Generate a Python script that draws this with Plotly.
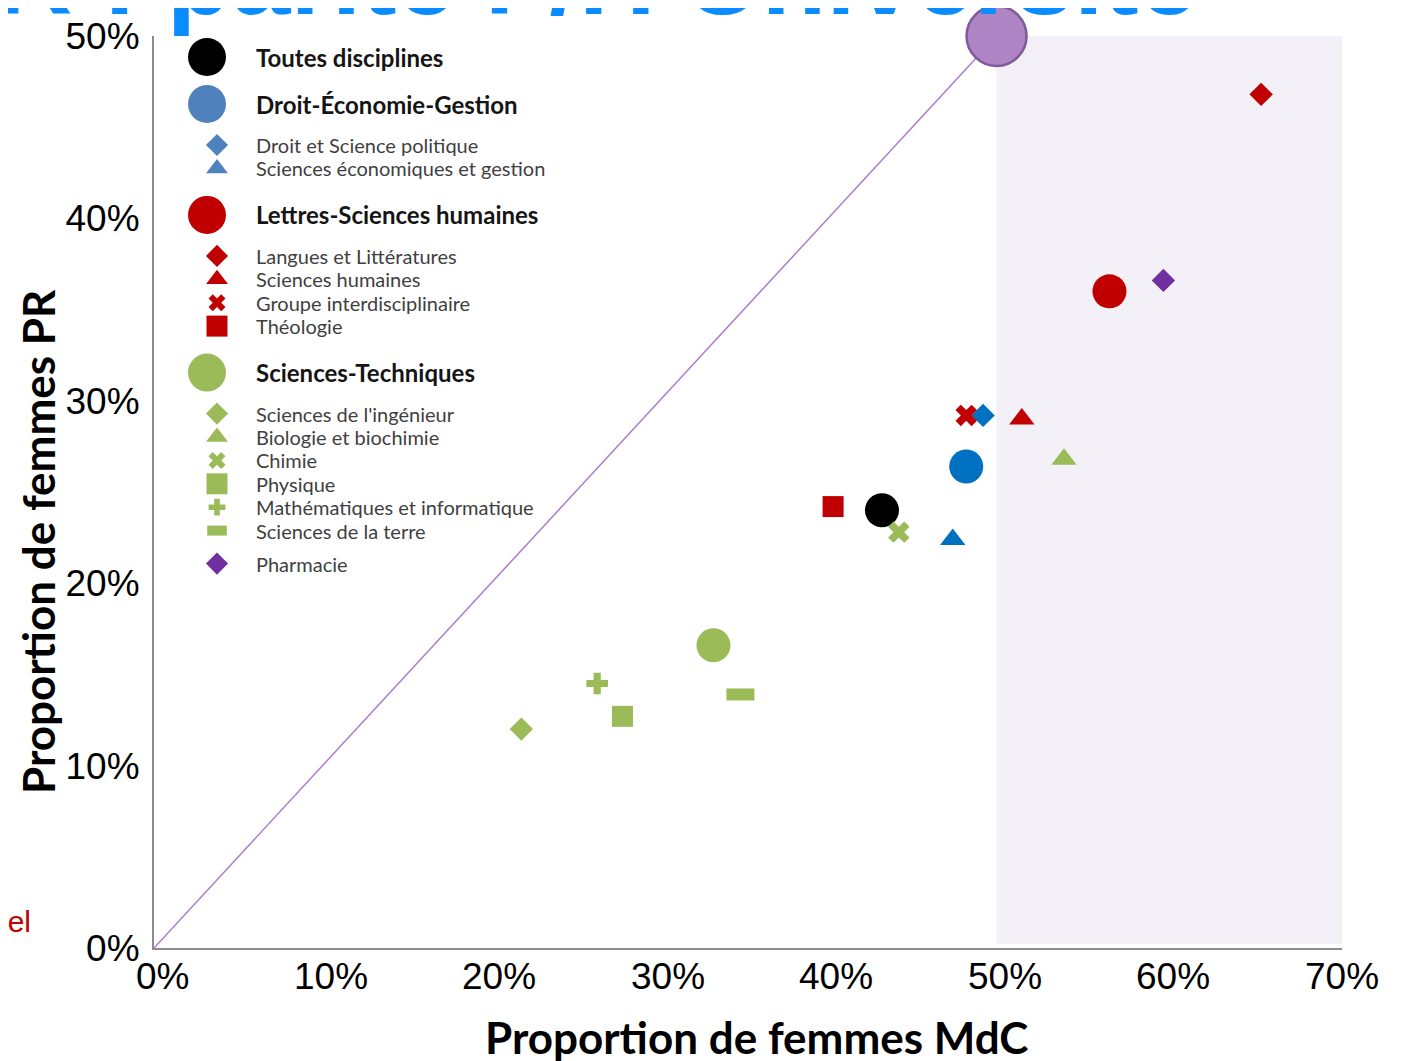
import plotly.graph_objects as go

# ---------------- data ----------------
categories = ["Toutes disciplines", "Droit-Économie-Gestion", "Droit et Science politique",
              "Sciences économiques et gestion", "Lettres-Sciences humaines", "Langues et Littératures",
              "Sciences humaines", "Groupe interdisciplinaire", "Théologie", "Sciences-Techniques",
              "Sciences de l'ingénieur", "Biologie et biochimie", "Chimie", "Physique",
              "Mathématiques et informatique", "Sciences de la terre", "Pharmacie"]
pct_femmes_mdc = [43.2, 48.2, 49.2, 47.4, 56.7, 65.7, 51.5, 48.2, 40.3, 33.2,
                  21.8, 54.0, 44.2, 27.8, 26.3, 34.8, 59.9]
pct_femmes_pr = [24.0, 26.4, 29.2, 22.4, 36.0, 46.8, 29.0, 29.2, 24.2, 16.6,
                 12.0, 26.8, 22.8, 12.7, 14.5, 13.9, 36.6]
families = ["all", "deg", "deg", "deg", "lsh", "lsh", "lsh", "lsh", "lsh", "st",
            "st", "st", "st", "st", "st", "st", "pha"]
levels = ["group", "group", "sub", "sub", "group", "sub", "sub", "sub", "sub", "group",
          "sub", "sub", "sub", "sub", "sub", "sub", "sub"]
parite_x = [50.0]
parite_y = [50.0]
x_ticks = [0, 10, 20, 30, 40, 50, 60, 70]
y_ticks = [0, 10, 20, 30, 40, 50]
x_tick_labels = ["0%", "10%", "20%", "30%", "40%", "50%", "60%", "70%"]
y_tick_labels = ["0%", "10%", "20%", "30%", "40%", "50%"]

# ---------------- styles ----------------
symbols = ["circle", "circle", "diamond", "triangle-up", "circle", "diamond", "triangle-up",
           "x", "square", "circle", "diamond", "triangle-up", "x", "square", "cross",
           "line-ew", "diamond"]
plot_colors = {"all": "#000000", "deg": "#0070C0", "lsh": "#C00000", "st": "#9BBB59", "pha": "#7030A0"}
legend_colors = {"all": "#000000", "deg": "#4F81BD", "lsh": "#C00000", "st": "#9BBB59", "pha": "#7030A0"}
sym_size_plot = {"circle": 34, "diamond": 18, "triangle-up": 22, "x": 19, "square": 21,
                 "cross": 18, "line-ew": 20}
sym_size_leg = {"circle": 38, "diamond": 17, "triangle-up": 19, "x": 15, "square": 21,
                "cross": 14, "line-ew": 14}

# page is offset by the 8px default body margin
OFF = 8
W, H = 1401 - OFF, 1061 - OFF
ML, MR, MT, MB = 154 - OFF, 59, 36 - OFF, 113
PW, PH = W - ML - MR, H - MT - MB


def ppx(px):  # page pixel -> paper
    return (px - 154) / PW


def ppy(py):
    return (948 - py) / PH


fig = go.Figure()

# diagonal parity line
fig.add_trace(go.Scatter(x=[0, parite_x[0]], y=[0, parite_y[0]], mode="lines",
                         line=dict(color="#A97FCF", width=1.5), hoverinfo="skip",
                         showlegend=False, cliponaxis=False))
# parity point
fig.add_trace(go.Scatter(x=parite_x, y=parite_y, mode="markers",
                         marker=dict(size=60, color="#AE84C4", opacity=1,
                                     line=dict(color="#7E5A9B", width=2.5)),
                         showlegend=False, cliponaxis=False))

# main points
mcolors = [plot_colors[f] for f in families]
msizes = [sym_size_plot[s] for s in symbols]
mlw = [12 if s == "line-ew" else 0 for s in symbols]
fig.add_trace(go.Scatter(
    x=pct_femmes_mdc, y=pct_femmes_pr, mode="markers", text=categories,
    marker=dict(symbol=symbols, size=msizes, color=mcolors, opacity=1,
                line=dict(width=mlw, color=mcolors)),
    showlegend=False, cliponaxis=False))

# ---------------- hand-drawn legend (overlay axes in page-pixel units) ----------------
leg_y = []
y = 57.0
for i in range(len(categories)):
    if i > 0:
        pl, cl = levels[i - 1], levels[i]
        if pl == "group" and cl == "group":
            y += 47
        elif pl == "group" and cl == "sub":
            y += 41
        elif pl == "sub" and cl == "group":
            y += 46.5
        elif families[i] != families[i - 1]:
            y += 33
        else:
            y += 23.4
    leg_y.append(y)
leg_x = [207 if lv == "group" else 217 for lv in levels]
lcolors = [legend_colors[f] for f in families]
lsizes = [sym_size_leg[s] for s in symbols]
llw = [10 if s == "line-ew" else 0 for s in symbols]
fig.add_trace(go.Scatter(
    x=leg_x, y=leg_y, xaxis="x2", yaxis="y2", mode="markers",
    marker=dict(symbol=symbols, size=lsizes, color=lcolors, opacity=1,
                line=dict(width=llw, color=lcolors)),
    showlegend=False, hoverinfo="skip", cliponaxis=False))

annotations = []
for lab, lv, yy in zip(categories, levels, leg_y):
    annotations.append(dict(
        x=254, y=yy, xref="x2", yref="y2", xanchor="left", yanchor="middle", showarrow=False,
        text=f"<b>{lab}</b>" if lv == "group" else lab,
        font=dict(family="Lato", size=24 if lv == "group" else 20,
                  color="#151515" if lv == "group" else "#3F3F3F")))

# x tick labels (slightly right of their ticks, as in the slide)
for tv, tl in zip(x_ticks, x_tick_labels):
    annotations.append(dict(x=tv, y=0, xref="x", yref="y", showarrow=False,
                            xanchor="center", yanchor="middle", xshift=8, yshift=-28,
                            text=tl, font=dict(family="Liberation Sans", size=37, color="#000000")))

# axis titles
annotations.append(dict(x=ppx(756), y=ppy(1037), xref="paper", yref="paper", showarrow=False,
                        xanchor="center", yanchor="middle",
                        text="<b>Proportion de femmes MdC</b>",
                        font=dict(family="Lato", size=44, color="#000000")))
annotations.append(dict(x=ppx(38), y=ppy(542), xref="paper", yref="paper", showarrow=False,
                        xanchor="center", yanchor="middle", textangle=-90,
                        text="<b>Proportion de femmes PR</b>",
                        font=dict(family="Lato", size=44, color="#000000")))
# slide fragments around the chart
annotations.append(dict(x=ppx(-6), y=ppy(38), xref="paper", yref="paper", showarrow=False,
                        xanchor="left", yanchor="bottom",
                        text="<b>R : parité F/H Université</b>",
                        font=dict(family="Liberation Sans", size=106, color="#0A8CFF")))
annotations.append(dict(x=ppx(33), y=ppy(921), xref="paper", yref="paper", showarrow=False,
                        xanchor="right", yanchor="middle", text="nel",
                        font=dict(family="Liberation Sans", size=30, color="#C00000")))

fig.update_layout(
    width=W, height=H,
    margin=dict(l=ML, r=MR, t=MT, b=MB, autoexpand=False),
    paper_bgcolor="white", plot_bgcolor="white",
    showlegend=False,
    xaxis=dict(range=[0, 70.5], tickvals=x_ticks, showticklabels=False, showgrid=False,
               zeroline=False, showline=True, linecolor="#8C8C8C", linewidth=2, ticks=""),
    yaxis=dict(range=[0, 50], tickvals=y_ticks, ticktext=y_tick_labels, showgrid=False,
               zeroline=False, showline=True, linecolor="#8C8C8C", linewidth=2, ticks="",
               ticklabelstandoff=5,
               tickfont=dict(family="Liberation Sans", size=37, color="#000000")),
    xaxis2=dict(range=[154, 1342], overlaying="x", visible=False, anchor="y2"),
    yaxis2=dict(range=[948, 36], overlaying="y", visible=False, anchor="x2"),
    shapes=[dict(type="rect", xref="x", yref="y", x0=50, x1=70.5, y0=0.2, y1=50,
                 fillcolor="#F3F0F8", line=dict(width=0), layer="below")],
    annotations=annotations,
)

fig.write_html("out.html")
